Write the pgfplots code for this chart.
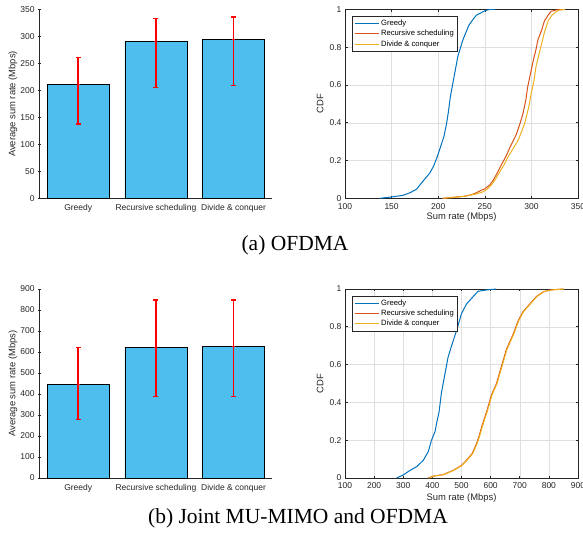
\documentclass[border=0pt]{standalone}
\usepackage{pgfplots}
\pgfplotsset{compat=1.18}
\usepackage{fontspec}
\setmainfont{Liberation Sans}
\newfontfamily\capfont{Liberation Serif}
\definecolor{mblue}{rgb}{0,0.447,0.741}
\definecolor{morange}{rgb}{0.85,0.325,0.098}
\definecolor{myellow}{rgb}{0.929,0.694,0.125}
\definecolor{mbar}{rgb}{0.301,0.745,0.933}
\definecolor{maxis}{rgb}{0.15,0.15,0.15}
\pgfplotsset{
  common/.style={scale only axis, anchor=south west, width=233pt,
    /pgf/number format/assume math mode=true,
    tick label style={font=\fontsize{8.5}{9}\selectfont, color=maxis},
    label style={font=\fontsize{9.4}{10}\selectfont, color=maxis},
    xticklabel style={yshift=-1.5pt},
    axis line style={maxis, line width=0.6pt},
    tick style={maxis, line width=0.6pt},
    major tick length=2.5pt, tick align=inside},
  barax/.style={common, xmin=0.5, xmax=3.5, ymin=0,
    axis x line=bottom, axis y line=left, axis line style={-},
    xtick={1,2,3}, xticklabels={Greedy, Recursive scheduling, Divide \& conquer},
    x tick style={draw=none},
    ylabel={Average sum rate (Mbps)},
    ylabel style={at={(axis description cs:-0.114,0.5)}, anchor=center}},
  cdfax/.style={common, xmin=100, ymin=0, ymax=1,
    grid=major, grid style={color=gray!25, line width=0.5pt},
    ytick={0,0.2,0.4,0.6,0.8,1},
    yticklabel style={/pgf/number format/fixed},
    xlabel={Sum rate (Mbps)}, ylabel={CDF},
    ylabel style={at={(axis description cs:-0.107,0.5)}, anchor=center},
    legend style={at={(0.029,0.965)}, anchor=north west,
      font=\fontsize{7.65}{8.5}\selectfont, draw=maxis, line width=0.6pt,
      inner sep=2pt, row sep=-1pt, cells={anchor=west}},
    legend image code/.code={\draw[#1] (0pt,0pt) -- (24pt,0pt);}},
  barplot/.style={ybar, bar width=62pt, fill=mbar, draw=black, line width=0.8pt},
  errline/.style={draw=red, line width=1.6pt, mark=-, mark size=2.5pt,
    mark options={draw=red, line width=1.2pt}},
  meanmark/.style={only marks, mark=-, mark size=1.5pt, draw=red, line width=1.2pt},
  cdfline/.style={line width=1pt},
}
\begin{document}
\begin{tikzpicture}
\useasboundingbox (0,0) rectangle (583pt,538pt);
% ---------- (a) bar chart ----------
\begin{axis}[barax, at={(39.4pt,339.7pt)}, height=188.8pt, ymax=350,
  ytick={0,50,...,350}]
\addplot[barplot] coordinates {(1,211) (2,290) (3,294)};
\addplot[errline] coordinates {(1,137.9) (1,260.4)};
\addplot[errline] coordinates {(2,206) (2,334)};
\addplot[errline] coordinates {(3,208.4) (3,336)};
\addplot[meanmark] coordinates {(1,211) (2,290) (3,294)};
\end{axis}
% ---------- (a) CDF ----------
\begin{axis}[cdfax, at={(345pt,339.7pt)}, height=188.8pt, xmax=350,
  xtick={100,150,...,350},
  xlabel style={at={(axis description cs:0.5,-0.1)}, anchor=center}]
\addplot[cdfline, mblue] coordinates {
(137.5,0) (150,0.007) (162.5,0.016) (170,0.03) (176.8,0.048) (183,0.087) (187,0.11) (191,0.134) (195,0.17) (199,0.22) (203,0.28) (206,0.325) (209,0.396) (211,0.46) (213,0.537) (217,0.643) (221,0.75) (224,0.80) (227,0.846) (233,0.917) (237,0.945) (241,0.97) (245,0.98) (250,0.993) (255,1) (261,1)};
\addplot[cdfline, morange] coordinates {
(205,0) (215,0.005) (227,0.01) (235,0.018) (239,0.025) (245,0.04) (250,0.05) (255,0.07) (259,0.095) (264,0.14) (268,0.18) (273,0.225) (277,0.27) (281,0.31) (284,0.34) (288,0.40) (291,0.45) (294,0.52) (296,0.59) (299,0.66) (302,0.73) (305,0.79) (307,0.84) (311,0.89) (314,0.94) (318,0.97) (321,0.99) (327,0.998) (334,1)};
\addplot[cdfline, myellow] coordinates {
(205,0) (218,0.005) (230,0.012) (240,0.022) (248,0.034) (253,0.05) (257,0.07) (262,0.105) (266,0.14) (271,0.18) (275,0.22) (280,0.26) (286,0.31) (290,0.36) (293,0.40) (297,0.48) (300,0.56) (303,0.63) (305,0.70) (308,0.76) (311,0.82) (314,0.88) (318,0.94) (322,0.97) (327,0.99) (331,0.998) (336,1)};
\legend{Greedy, Recursive scheduling, Divide \& conquer}
\end{axis}
% ---------- (b) bar chart ----------
\begin{axis}[barax, at={(39.4pt,60pt)}, height=189pt, ymax=900,
  ytick={0,100,...,900}]
\addplot[barplot] coordinates {(1,444) (2,622) (3,627)};
\addplot[errline] coordinates {(1,279) (1,621)};
\addplot[errline] coordinates {(2,387) (2,848)};
\addplot[errline] coordinates {(3,387) (3,848)};
\addplot[meanmark] coordinates {(1,444) (2,622) (3,627)};
\end{axis}
% ---------- (b) CDF ----------
\begin{axis}[cdfax, at={(345pt,60pt)}, height=189pt, xmax=900,
  xtick={100,200,...,900},
  xlabel style={at={(axis description cs:0.5,-0.105)}, anchor=center}]
\addplot[cdfline, mblue] coordinates {
(277,0) (300,0.016) (323,0.04) (346,0.06) (369,0.094) (386,0.14) (397,0.2) (409,0.245) (416,0.30) (423,0.35) (431,0.45) (437,0.50) (443,0.55) (454,0.64) (460,0.67) (466,0.70) (483,0.78) (500,0.87) (517,0.92) (540,0.96) (557,0.988) (586,0.995) (620,1)};
\addplot[cdfline, morange] coordinates {
(386,0) (403,0.01) (437,0.018) (471,0.04) (500,0.067) (517,0.094) (537,0.13) (551,0.18) (560,0.22) (569,0.27) (586,0.35) (603,0.44) (620,0.5) (637,0.59) (654,0.68) (677,0.76) (694,0.83) (711,0.88) (734,0.92) (757,0.96) (780,0.985) (800,0.993) (814,0.996) (849,1)};
\addplot[cdfline, myellow] coordinates {
(388,0) (405,0.01) (439,0.018) (473,0.04) (502,0.067) (519,0.094) (539,0.13) (553,0.18) (562,0.22) (571,0.27) (588,0.35) (605,0.44) (622,0.5) (639,0.59) (656,0.68) (679,0.76) (696,0.83) (713,0.88) (736,0.92) (759,0.96) (782,0.985) (802,0.993) (816,0.996) (852,1)};
\legend{Greedy, Recursive scheduling, Divide \& conquer}
\end{axis}
% ---------- captions ----------
\node[font=\capfont\fontsize{21.5}{24}\selectfont, anchor=base, inner sep=0pt] at (295pt,287.3pt) {(a) OFDMA};
\node[font=\capfont\fontsize{21.5}{24}\selectfont, anchor=base, inner sep=0pt] at (298pt,15pt) {(b) Joint MU-MIMO and OFDMA};
\end{tikzpicture}
\end{document}
